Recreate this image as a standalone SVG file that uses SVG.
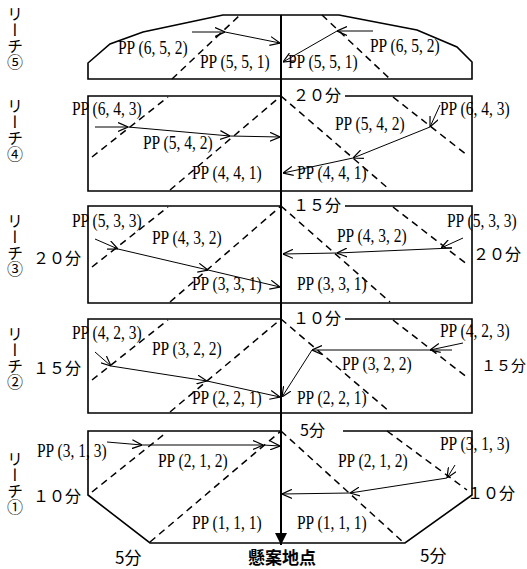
<svg xmlns="http://www.w3.org/2000/svg" width="527" height="569" viewBox="0 0 527 569">
<style>
.box{fill:none;stroke:#000;stroke-width:1.6}
.dash{fill:none;stroke:#000;stroke-width:1.5;stroke-dasharray:7 5}
.arr{fill:none;stroke:#000;stroke-width:1;marker-end:url(#open)}
.pp{font-family:"Liberation Serif",serif;font-size:15.5px;fill:#000}
.jp{font-family:"Noto Sans CJK JP",sans-serif;font-size:16px;fill:#000}
.vt{font-family:"Noto Sans CJK JP",sans-serif;font-size:16px;fill:#000;writing-mode:vertical-rl}
</style>
<defs>
<marker id="open" markerUnits="userSpaceOnUse" viewBox="0 0 10 10" refX="10" refY="5" markerWidth="10" markerHeight="10" orient="auto">
<path d="M0,0.5 L10,5 L0,9.5" fill="none" stroke="#000" stroke-width="1.2"/>
</marker>
<marker id="solid" markerUnits="userSpaceOnUse" viewBox="0 0 12 12" refX="12" refY="6" markerWidth="12" markerHeight="12" orient="auto">
<path d="M0,0 L12,6 L0,12 Z" fill="#000"/>
</marker>
</defs>
<rect width="527" height="569" fill="#fff"/>

<g id="reach5">
<path class="box" d="M88,79 L88,63 L110,44 L143,32 L223,15 L339,15 L417,30 L457,47 L472,62 L472,79 Z"/>
<line class="dash" x1="172" y1="79" x2="240" y2="15"/>
<line class="dash" x1="322" y1="15" x2="390" y2="79"/>
<text class="vt" x="15" y="6">リーチ⑤</text>
<text class="pp" transform="translate(118,54) scale(1,1.2)">PP (6, 5, 2)</text>
<text class="pp" transform="translate(200,68) scale(1,1.2)">PP (5, 5, 1)</text>
<text class="pp" transform="translate(288,68) scale(1,1.2)">PP (5, 5, 1)</text>
<text class="pp" transform="translate(370,52) scale(1,1.2)">PP (6, 5, 2)</text>
</g>

<g id="reach4">
<path class="box" d="M281,96 L88,96 L88,191 L472,191 L472,96 L345,96"/>
<line class="dash" x1="92" y1="157" x2="168" y2="97"/>
<line class="dash" x1="170" y1="190" x2="281" y2="96"/>
<line class="dash" x1="281" y1="96" x2="390" y2="190"/>
<line class="dash" x1="393" y1="97" x2="467" y2="155"/>
<text class="vt" x="15" y="98">リーチ④</text>
<text class="jp" x="293" y="101">２０分</text>
<text class="pp" transform="translate(72,115) scale(1,1.2)">PP (6, 4, 3)</text>
<text class="pp" transform="translate(143,149) scale(1,1.2)">PP (5, 4, 2)</text>
<text class="pp" transform="translate(192,179) scale(1,1.2)">PP (4, 4, 1)</text>
<text class="pp" transform="translate(440,115) scale(1,1.2)">PP (6, 4, 3)</text>
<text class="pp" transform="translate(335,130) scale(1,1.2)">PP (5, 4, 2)</text>
<text class="pp" transform="translate(297,179) scale(1,1.2)">PP (4, 4, 1)</text>
</g>

<g id="reach3">
<path class="box" d="M281,206 L88,206 L88,303 L472,303 L472,206 L345,206"/>
<line class="dash" x1="92" y1="267" x2="168" y2="207"/>
<line class="dash" x1="170" y1="302" x2="281" y2="206"/>
<line class="dash" x1="281" y1="206" x2="390" y2="302"/>
<line class="dash" x1="393" y1="207" x2="468" y2="265"/>
<text class="vt" x="15" y="213">リーチ③</text>
<text class="jp" x="293" y="211">１５分</text>
<text class="jp" x="33" y="264">２０分</text>
<text class="jp" x="473" y="260">２０分</text>
<text class="pp" transform="translate(72,227) scale(1,1.2)">PP (5, 3, 3)</text>
<text class="pp" transform="translate(152,244) scale(1,1.2)">PP (4, 3, 2)</text>
<text class="pp" transform="translate(192,290) scale(1,1.2)">PP (3, 3, 1)</text>
<text class="pp" transform="translate(447,227) scale(1,1.2)">PP (5, 3, 3)</text>
<text class="pp" transform="translate(337,242) scale(1,1.2)">PP (4, 3, 2)</text>
<text class="pp" transform="translate(297,290) scale(1,1.2)">PP (3, 3, 1)</text>
</g>

<g id="reach2">
<path class="box" d="M281,319 L88,319 L88,413 L472,413 L472,319 L345,319"/>
<line class="dash" x1="92" y1="380" x2="168" y2="320"/>
<line class="dash" x1="170" y1="412" x2="281" y2="319"/>
<line class="dash" x1="281" y1="319" x2="390" y2="412"/>
<line class="dash" x1="393" y1="320" x2="468" y2="378"/>
<text class="vt" x="15" y="326">リーチ②</text>
<text class="jp" x="293" y="324">１０分</text>
<text class="jp" x="33" y="374">１５分</text>
<text class="jp" x="481" y="371" style="font-size:15px">１５分</text>
<text class="pp" transform="translate(72,339) scale(1,1.2)">PP (4, 2, 3)</text>
<text class="pp" transform="translate(152,355) scale(1,1.2)">PP (3, 2, 2)</text>
<text class="pp" transform="translate(192,404) scale(1,1.2)">PP (2, 2, 1)</text>
<text class="pp" transform="translate(440,337) scale(1,1.2)">PP (4, 2, 3)</text>
<text class="pp" transform="translate(342,370) scale(1,1.2)">PP (3, 2, 2)</text>
<text class="pp" transform="translate(297,404) scale(1,1.2)">PP (2, 2, 1)</text>
</g>

<g id="reach1">
<path class="box" d="M281,431 L88,431 L88,495 L150,543 L405,543 L472,495 L472,431 L343,431"/>
<line class="dash" x1="92" y1="492" x2="167" y2="432"/>
<line class="dash" x1="150" y1="542" x2="281" y2="431"/>
<line class="dash" x1="281" y1="431" x2="403" y2="542"/>
<line class="dash" x1="387" y1="431" x2="467" y2="490"/>
<text class="vt" x="15" y="451">リーチ①</text>
<text class="jp" x="300" y="436">5分</text>
<text class="jp" x="33" y="502">１０分</text>
<text class="jp" x="467" y="499">１０分</text>
<text class="pp" transform="translate(37,457) scale(1,1.2)">PP (3, 1, 3)</text>
<text class="pp" transform="translate(158,467) scale(1,1.2)">PP (2, 1, 2)</text>
<text class="pp" transform="translate(192,529) scale(1,1.2)">PP (1, 1, 1)</text>
<text class="pp" transform="translate(440,450) scale(1,1.2)">PP (3, 1, 3)</text>
<text class="pp" transform="translate(338,467) scale(1,1.2)">PP (2, 1, 2)</text>
<text class="pp" transform="translate(297,529) scale(1,1.2)">PP (1, 1, 1)</text>
</g>

<g id="bottom-labels">
<text class="jp" x="115" y="564" style="font-size:17px">5分</text>
<text class="jp" x="420" y="562" style="font-size:17px">5分</text>
<text class="jp" x="248" y="564" style="font-size:17px;font-weight:bold">懸案地点</text>
</g>

<g id="connectors">
<line x1="281" y1="15" x2="281" y2="545" stroke="#000" stroke-width="2" marker-end="url(#solid)"/>
<line class="arr" x1="192" y1="32" x2="225" y2="32"/>
<line class="arr" x1="225" y1="32" x2="280" y2="43"/>
<line class="arr" x1="373" y1="31" x2="337" y2="31"/>
<line class="arr" x1="337" y1="31" x2="283" y2="62"/>

<line class="arr" x1="95" y1="127" x2="128" y2="127"/>
<line class="arr" x1="128" y1="127" x2="230" y2="136"/>
<line class="arr" x1="230" y1="136" x2="280" y2="137"/>
<line class="arr" x1="440" y1="105" x2="430" y2="127"/>
<line class="arr" x1="430" y1="127" x2="353" y2="158"/>
<line class="arr" x1="353" y1="158" x2="283" y2="173"/>

<line class="arr" x1="95" y1="239" x2="118" y2="249"/>
<line class="arr" x1="118" y1="249" x2="208" y2="270"/>
<line class="arr" x1="208" y1="270" x2="280" y2="287"/>
<line class="arr" x1="463" y1="238" x2="441" y2="248"/>
<line class="arr" x1="452" y1="248" x2="337" y2="253"/>
<line class="arr" x1="337" y1="253" x2="283" y2="254"/>

<line class="arr" x1="95" y1="352" x2="111" y2="366"/>
<line class="arr" x1="111" y1="366" x2="207" y2="381"/>
<line class="arr" x1="207" y1="381" x2="280" y2="397"/>
<line class="arr" x1="463" y1="343" x2="430" y2="350"/>
<line class="arr" x1="452" y1="350" x2="312" y2="350"/>
<line class="arr" x1="312" y1="350" x2="282" y2="397"/>

<line class="arr" x1="107" y1="442" x2="142" y2="445"/>
<line class="arr" x1="142" y1="445" x2="263" y2="445"/>
<line class="arr" x1="263" y1="445" x2="280" y2="446"/>
<line class="arr" x1="455" y1="465" x2="447" y2="478"/>
<line class="arr" x1="447" y1="478" x2="350" y2="493"/>
<line class="arr" x1="350" y1="493" x2="282" y2="494"/>
</g>
</svg>
